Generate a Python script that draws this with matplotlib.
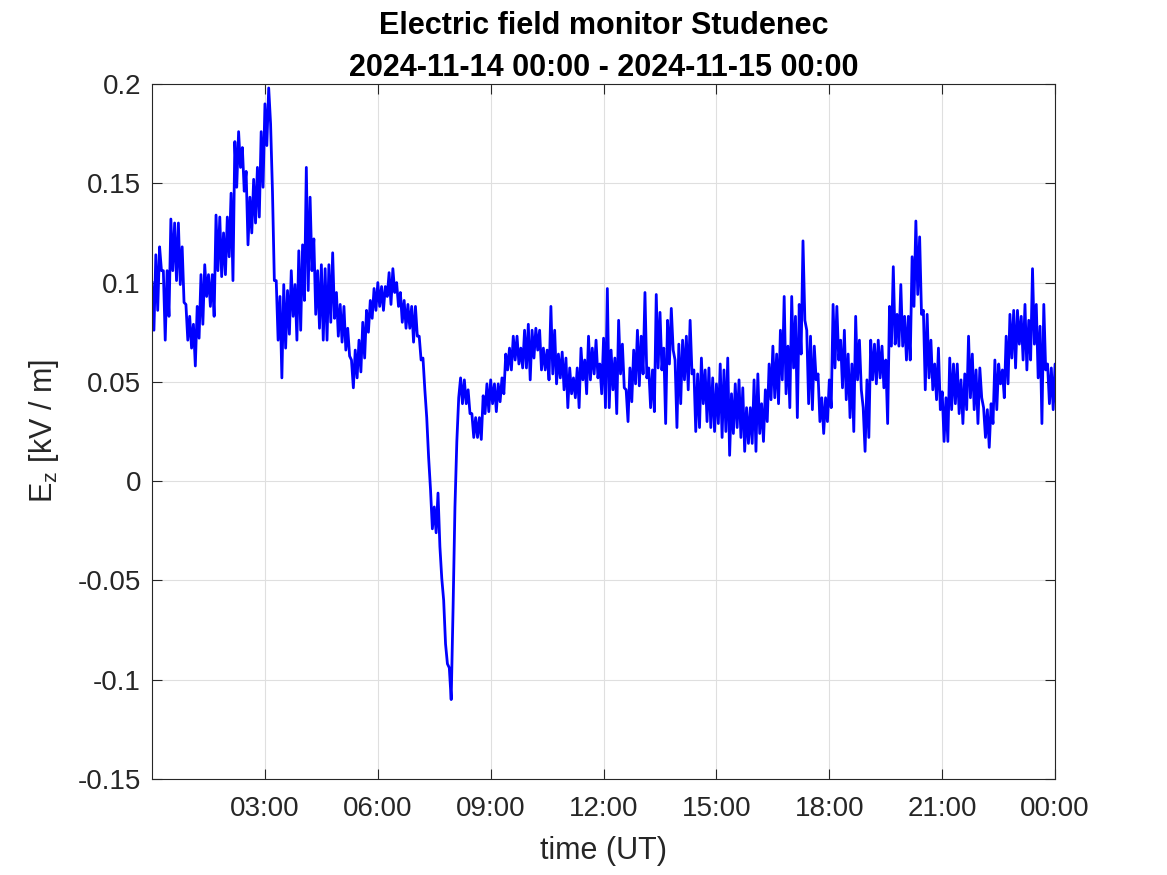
import numpy as np
import matplotlib
matplotlib.use("Agg")
import matplotlib.pyplot as plt

# Ez: two readings (first, second) every 0.1 h,
# mostly the upper and lower edge of the noisy trace
ez_a = [
    0.100, 0.114, 0.118, 0.106, 0.106, 0.132, 0.130, 0.130, 0.118, 0.089,
    0.083, 0.079, 0.088, 0.104, 0.109, 0.104, 0.104, 0.134, 0.133, 0.125,
    0.133, 0.145, 0.171, 0.176, 0.168, 0.156, 0.143, 0.152, 0.158, 0.176,
    0.190, 0.198, 0.146, 0.101, 0.093, 0.099, 0.096, 0.106, 0.099, 0.116,
    0.119, 0.158, 0.143, 0.122, 0.106, 0.109, 0.107, 0.109, 0.115, 0.095,
    0.089, 0.088, 0.077, 0.061, 0.066, 0.071, 0.080, 0.086, 0.091, 0.097,
    0.100, 0.098, 0.098, 0.105, 0.107, 0.100, 0.095, 0.091, 0.089, 0.088,
    0.088, 0.073, 0.062, 0.032, -0.004, -0.013, -0.006, -0.049, -0.082, -0.094,
    -0.064, 0.020, 0.052, 0.051, 0.046, 0.034, 0.032, 0.032, 0.043, 0.049,
    0.051, 0.049, 0.049, 0.052, 0.064, 0.067, 0.073, 0.073, 0.067, 0.076,
    0.079, 0.076, 0.077, 0.076, 0.067, 0.066, 0.088, 0.076, 0.064, 0.065,
    0.062, 0.057, 0.052, 0.057, 0.067, 0.061, 0.073, 0.067, 0.071, 0.059,
    0.072, 0.097, 0.066, 0.062, 0.081, 0.069, 0.046, 0.057, 0.066, 0.076,
    0.073, 0.095, 0.057, 0.056, 0.094, 0.085, 0.067, 0.081, 0.087, 0.061,
    0.069, 0.071, 0.073, 0.081, 0.056, 0.054, 0.062, 0.056, 0.057, 0.052,
    0.049, 0.059, 0.056, 0.062, 0.044, 0.049, 0.051, 0.047, 0.037, 0.037,
    0.051, 0.054, 0.039, 0.046, 0.059, 0.068, 0.064, 0.076, 0.093, 0.068,
    0.093, 0.083, 0.089, 0.121, 0.076, 0.073, 0.068, 0.054, 0.042, 0.042,
    0.051, 0.089, 0.088, 0.071, 0.076, 0.064, 0.059, 0.083, 0.071, 0.037,
    0.051, 0.071, 0.069, 0.071, 0.068, 0.061, 0.088, 0.108, 0.084, 0.099,
    0.083, 0.083, 0.113, 0.131, 0.123, 0.086, 0.084, 0.071, 0.059, 0.067,
    0.045, 0.042, 0.062, 0.059, 0.059, 0.051, 0.054, 0.073, 0.064, 0.056,
    0.057, 0.037, 0.036, 0.039, 0.061, 0.059, 0.056, 0.073, 0.084, 0.086,
    0.086, 0.083, 0.089, 0.081, 0.107, 0.089, 0.078, 0.089, 0.059, 0.057,
    0.059,
]
ez_b = [
    0.076, 0.086, 0.106, 0.071, 0.083, 0.106, 0.101, 0.099, 0.090, 0.071,
    0.067, 0.058, 0.072, 0.079, 0.093, 0.088, 0.083, 0.106, 0.103, 0.104,
    0.113, 0.101, 0.148, 0.158, 0.146, 0.119, 0.125, 0.130, 0.133, 0.148,
    0.169, 0.180, 0.101, 0.071, 0.052, 0.067, 0.074, 0.083, 0.071, 0.076,
    0.091, 0.096, 0.106, 0.084, 0.077, 0.071, 0.071, 0.080, 0.082, 0.073,
    0.070, 0.066, 0.063, 0.047, 0.052, 0.055, 0.062, 0.075, 0.082, 0.086,
    0.088, 0.086, 0.093, 0.089, 0.095, 0.088, 0.080, 0.077, 0.077, 0.070,
    0.073, 0.061, 0.046, 0.012, -0.024, -0.026, -0.033, -0.060, -0.092, -0.110,
    -0.013, 0.042, 0.039, 0.039, 0.034, 0.022, 0.022, 0.021, 0.034, 0.035,
    0.039, 0.035, 0.040, 0.044, 0.056, 0.056, 0.061, 0.059, 0.057, 0.057,
    0.051, 0.062, 0.066, 0.056, 0.056, 0.051, 0.054, 0.049, 0.052, 0.046,
    0.037, 0.044, 0.042, 0.037, 0.051, 0.044, 0.051, 0.054, 0.052, 0.044,
    0.037, 0.037, 0.046, 0.034, 0.054, 0.047, 0.030, 0.040, 0.049, 0.048,
    0.054, 0.052, 0.037, 0.035, 0.057, 0.056, 0.029, 0.059, 0.066, 0.027,
    0.039, 0.051, 0.046, 0.054, 0.025, 0.027, 0.039, 0.030, 0.027, 0.025,
    0.029, 0.022, 0.025, 0.013, 0.024, 0.027, 0.022, 0.015, 0.019, 0.019,
    0.015, 0.024, 0.020, 0.030, 0.041, 0.042, 0.039, 0.051, 0.044, 0.037,
    0.057, 0.032, 0.064, 0.081, 0.039, 0.036, 0.051, 0.030, 0.024, 0.030,
    0.037, 0.057, 0.061, 0.047, 0.041, 0.032, 0.025, 0.051, 0.046, 0.015,
    0.022, 0.051, 0.049, 0.052, 0.047, 0.029, 0.068, 0.069, 0.068, 0.068,
    0.061, 0.061, 0.088, 0.094, 0.084, 0.046, 0.052, 0.046, 0.041, 0.036,
    0.020, 0.020, 0.036, 0.039, 0.034, 0.029, 0.036, 0.042, 0.036, 0.029,
    0.042, 0.022, 0.017, 0.029, 0.036, 0.049, 0.042, 0.049, 0.062, 0.057,
    0.069, 0.061, 0.056, 0.061, 0.069, 0.052, 0.029, 0.056, 0.039, 0.036,
    0.030,
]

x_ticks = [3, 6, 9, 12, 15, 18, 21, 24]
x_labels = ["03:00", "06:00", "09:00", "12:00", "15:00", "18:00", "21:00", "00:00"]
y_ticks = [-0.15, -0.1, -0.05, 0, 0.05, 0.1, 0.15, 0.2]
y_labels = ["-0.15", "-0.1", "-0.05", "0", "0.05", "0.1", "0.15", "0.2"]

TITLE = "Electric field monitor Studenec\n2024-11-14 00:00 - 2024-11-15 00:00"


def build_series():
    # interleave the two readings so the trace looks like the dense raw signal
    hours = np.arange(len(ez_a)) * 0.1
    t = np.empty(2 * len(hours))
    v = np.empty(2 * len(hours))
    t[0::2] = hours
    t[1::2] = hours + 0.05
    v[0::2] = ez_a
    v[1::2] = ez_b
    return t, v


def main():
    plt.rcParams["font.family"] = ["Liberation Sans", "DejaVu Sans"]
    plt.rcParams["mathtext.fontset"] = "custom"
    plt.rcParams["mathtext.rm"] = "Liberation Sans"
    plt.rcParams["mathtext.it"] = "Liberation Sans"

    fig = plt.figure(figsize=(11.67, 8.75), dpi=100)
    ax = fig.add_axes([0.1303, 0.1097, 0.7738, 0.7943])

    t, v = build_series()
    ax.plot(t, v, color="#0000ff", linewidth=2.0)

    ax.set_xlim(0, 24)
    ax.set_ylim(-0.15, 0.2)
    ax.set_xticks(x_ticks)
    ax.set_xticklabels(x_labels)
    ax.set_yticks(y_ticks)
    ax.set_yticklabels(y_labels)

    ax.grid(True, color="#dfdfdf", linewidth=0.8)
    ax.set_axisbelow(True)
    ax.tick_params(direction="in", length=7, width=0.8, colors="#262626",
                   labelsize=20, top=True, right=True)
    ax.tick_params(axis="x", pad=12)
    ax.tick_params(axis="y", pad=8)
    for s in ax.spines.values():
        s.set_color("#262626")
        s.set_linewidth(0.8)

    ax.set_xlabel("time (UT)", fontsize=22, color="#262626", labelpad=10)
    ax.set_ylabel(r"E$_\mathregular{z}$ [kV / m]", fontsize=22, color="#262626", labelpad=12)
    ax.set_title(TITLE, fontsize=22, fontweight="bold", pad=6, linespacing=1.5)

    fig.savefig("out.png", dpi=100)


if __name__ == "__main__":
    main()
